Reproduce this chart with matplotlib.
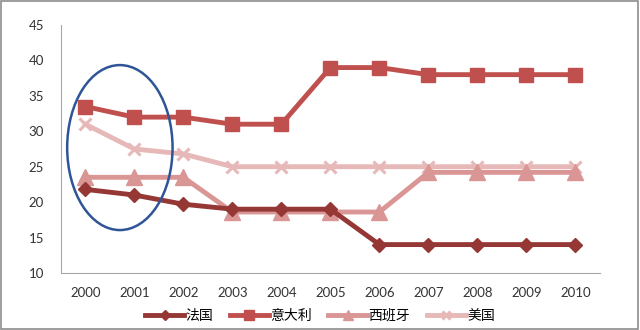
import matplotlib
matplotlib.use("Agg")
from matplotlib import pyplot as plt
from matplotlib.patches import Ellipse, Rectangle

years = ["2000", "2001", "2002", "2003", "2004", "2005", "2006", "2007", "2008", "2009", "2010"]
france = [21.8, 21.0, 19.7, 19.0, 19.0, 19.0, 14.0, 14.0, 14.0, 14.0, 14.0]
italy = [33.5, 32.0, 32.0, 31.0, 31.0, 39.0, 39.0, 38.0, 38.0, 38.0, 38.0]
spain = [23.5, 23.5, 23.5, 18.6, 18.6, 18.6, 18.6, 24.2, 24.2, 24.2, 24.2]
usa = [31.0, 27.5, 26.8, 25.0, 25.0, 25.0, 25.0, 25.0, 25.0, 25.0, 25.0]
names = ["法国", "意大利", "西班牙", "美国"]

plt.rcParams["font.family"] = ["Lato", "Noto Sans CJK SC", "DejaVu Sans"]

fig = plt.figure(figsize=(6.4, 3.3), dpi=100)
ax = fig.add_axes([0.095, 0.173, 0.8425, 0.751])
x = list(range(len(years)))

ax.plot(x, usa, color="#E6B9B8", lw=3.5, marker="x", ms=9, mew=2.2,
        label=names[3], zorder=2)
ax.plot(x, italy, color="#C0504D", lw=3.5, marker="s", ms=10,
        label=names[1], zorder=3)
ax.plot(x, spain, color="#D99694", lw=3.5, marker="^", ms=11,
        label=names[2], zorder=4)
ax.plot(x, france, color="#953735", lw=3.5, marker="D", ms=7.5,
        label=names[0], zorder=5)

ax.add_patch(Ellipse((0.705, 27.7), 2.15, 23.3, fill=False,
                     edgecolor="#2F5597", lw=1.8, zorder=6))

ax.set_xlim(-0.5, len(years) - 0.5)
ax.set_ylim(10, 45)
ax.set_yticks(range(10, 46, 5))
ax.set_xticks(x)
ax.set_xticklabels(years)
ax.tick_params(length=0, labelsize=9.5, colors="#333333")
ax.tick_params(axis="x", pad=10)
ax.tick_params(axis="y", pad=12)
for s in ["top", "right"]:
    ax.spines[s].set_visible(False)
ax.spines["left"].set_color("#A6A6A6")
ax.spines["bottom"].set_color("#A6A6A6")

h, l = ax.get_legend_handles_labels()
order = [3, 1, 2, 0]
fig.legend([h[i] for i in order], [l[i] for i in order], loc="center",
           bbox_to_anchor=(0.5, 0.045), ncol=4, frameon=False, fontsize=10,
           handlelength=2.8, columnspacing=1.2, handletextpad=0.1,
           markerscale=0.7)

fig.patches.append(Rectangle((0.002, 0.003), 0.995, 0.994, transform=fig.transFigure,
                             fill=False, edgecolor="#8C8C8C", lw=1.2))

plt.savefig("out.png", dpi=100)
